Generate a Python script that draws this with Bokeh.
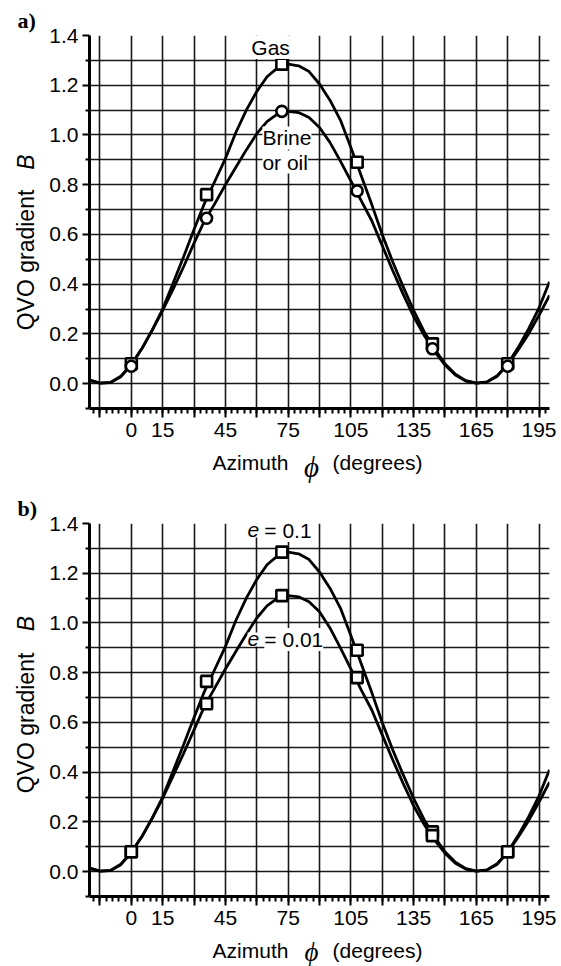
import math
from bokeh.plotting import figure
from bokeh.layouts import column, row
from bokeh.models import Range1d, FixedTicker, Label, Title
from bokeh.embed import file_html
from bokeh.resources import INLINE

# ---------------- data ----------------
azimuth = [-20, -15, -10, -5, 0, 5, 10, 15, 20, 25, 30, 35, 40, 45, 50, 55, 60,
           65, 70, 75, 80, 85, 90, 95, 100, 105, 110, 115, 120, 125, 130, 135,
           140, 145, 150, 155, 160, 165, 170, 175, 180, 185, 190, 195, 200]

gas = [0.015, 0.002, 0.004, 0.028, 0.078, 0.14, 0.215, 0.30, 0.405, 0.51, 0.62,
       0.725, 0.815, 0.905, 1.01, 1.10, 1.175, 1.235, 1.27, 1.285, 1.278, 1.255,
       1.205, 1.14, 1.06, 0.95, 0.835, 0.72, 0.60, 0.49, 0.39, 0.295, 0.21, 0.14,
       0.08, 0.038, 0.012, 0.002, 0.006, 0.03, 0.08, 0.145, 0.22, 0.305, 0.41]

brine = [0.012, 0.002, 0.005, 0.03, 0.075, 0.14, 0.215, 0.295, 0.38, 0.47, 0.565,
         0.655, 0.725, 0.80, 0.87, 0.94, 1.005, 1.055, 1.085, 1.095, 1.09, 1.07,
         1.03, 0.97, 0.895, 0.815, 0.735, 0.655, 0.555, 0.455, 0.36, 0.27, 0.195,
         0.13, 0.075, 0.035, 0.01, 0.002, 0.007, 0.032, 0.075, 0.135, 0.20, 0.275,
         0.355]

e_01 = [0.015, 0.002, 0.004, 0.028, 0.078, 0.14, 0.215, 0.30, 0.405, 0.51, 0.62,
        0.725, 0.815, 0.905, 1.01, 1.10, 1.175, 1.235, 1.27, 1.285, 1.278, 1.255,
        1.205, 1.14, 1.06, 0.95, 0.835, 0.72, 0.60, 0.49, 0.39, 0.295, 0.21, 0.14,
        0.08, 0.038, 0.012, 0.002, 0.006, 0.03, 0.08, 0.145, 0.22, 0.305, 0.41]

e_001 = [0.012, 0.002, 0.005, 0.03, 0.077, 0.14, 0.215, 0.295, 0.385, 0.475, 0.57,
         0.665, 0.74, 0.815, 0.885, 0.955, 1.02, 1.07, 1.10, 1.11, 1.105, 1.085,
         1.045, 0.98, 0.90, 0.815, 0.73, 0.65, 0.55, 0.45, 0.355, 0.265, 0.19,
         0.128, 0.074, 0.034, 0.01, 0.002, 0.007, 0.032, 0.077, 0.138, 0.205, 0.28,
         0.36]

marker_azimuth = [0, 36, 72, 108, 144, 180]
gas_pts = [0.08, 0.76, 1.285, 0.89, 0.16, 0.08]
brine_pts = [0.07, 0.665, 1.095, 0.775, 0.14, 0.07]
e01_pts = [0.08, 0.765, 1.285, 0.89, 0.16, 0.08]
e001_pts = [0.08, 0.675, 1.11, 0.78, 0.145, 0.08]

x_major = [-15, 0, 15, 30, 45, 60, 75, 90, 105, 120, 135, 150, 165, 180, 195]
x_labeled = [0, 15, 45, 75, 105, 135, 165, 195]
x_minor = list(range(-18, 200, 3))
y_major = [0.0, 0.2, 0.4, 0.6, 0.8, 1.0, 1.2, 1.4]
y_minor = [-0.1, 0.1, 0.3, 0.5, 0.7, 0.9, 1.1, 1.3]
y_grid = [0.0, 0.1, 0.2, 0.3, 0.4, 0.5, 0.6, 0.7, 0.8, 0.9, 1.0, 1.1, 1.2, 1.3]
y_labels = ["0.0", "0.2", "0.4", "0.6", "0.8", "1.0", "1.2", "1.4"]

SANS = "Liberation Sans"
SERIF = "Liberation Serif"

STRIP_W = 45
MAIN_W = 561 - STRIP_W
FRAME_TOP = 35
FRAME_BOTTOM = 408


def blank(width, height, top=0, bottom=0):
    """Plain drawing area without axes or title."""
    f = figure(width=width, height=height, output_backend="svg", toolbar_location=None,
               title=None, x_axis_location=None, y_axis_location=None,
               min_border=0, min_border_left=0, min_border_right=0,
               min_border_top=top, min_border_bottom=bottom)
    f.outline_line_color = None
    f.xgrid.visible = False
    f.ygrid.visible = False
    f.background_fill_color = "white"
    f.border_fill_color = "white"
    return f


def left_strip(height, letter, b_y, qvo_y):
    # frame of this strip lines up with the frame of the main panel (rows align frames);
    # data units: x = pixels from left, y = -(pixels from top of the panel)
    f = blank(STRIP_W, height, top=FRAME_TOP, bottom=height - FRAME_BOTTOM)
    f.x_range = Range1d(0, STRIP_W)
    f.y_range = Range1d(-FRAME_BOTTOM, -FRAME_TOP)
    f.add_layout(Title(text=letter, align="left", offset=17, standoff=6,
                       text_font=SERIF, text_font_style="bold", text_font_size="22px",
                       text_color="black"), "above")
    for y, text, style in ((b_y, "B", "italic"), (qvo_y, "QVO gradient", "normal")):
        f.add_layout(Label(x=25, y=-y, text=text, angle=math.pi / 2, text_align="center",
                           text_baseline="middle", text_font=SANS, text_font_size="23px",
                           text_font_style=style, text_color="black"))
    return f


def bottom_strip(height, y_from_top, phi_y, phi_size):
    f = blank(561, height)
    f.x_range = Range1d(0, 561)
    f.y_range = Range1d(-height, 0)
    for x, y, text, font, size, style in (
            (250, y_from_top, "Azimuth", SANS, "21px", "normal"),
            (311, phi_y, "\u03d5", SERIF, phi_size, "italic"),
            (377, y_from_top, "(degrees)", SANS, "21px", "normal")):
        f.add_layout(Label(x=x, y=-y, text=text, text_align="center",
                           text_baseline="middle", text_font=font, text_font_size=size,
                           text_font_style=style, text_color="black"))
    return f


def main_panel(height):
    p = figure(width=MAIN_W, height=height, output_backend="svg", toolbar_location=None,
               x_range=Range1d(-20, 200), y_range=Range1d(-0.1, 1.4),
               min_border_left=89 - STRIP_W, min_border_right=12, min_border_top=FRAME_TOP,
               min_border_bottom=height - FRAME_BOTTOM)
    p.outline_line_color = None
    p.background_fill_color = "white"
    p.border_fill_color = "white"

    p.xgrid.ticker = FixedTicker(ticks=x_major)
    p.ygrid.ticker = FixedTicker(ticks=y_grid)
    for g in (p.xgrid, p.ygrid):
        g.grid_line_color = "black"
        g.grid_line_width = 1.6
        g.grid_line_alpha = 0.9

    xa = p.xaxis[0]
    xa.ticker = FixedTicker(ticks=x_major, minor_ticks=x_minor)
    xa.major_label_overrides = {t: (str(t) if t in x_labeled else "") for t in x_major}
    ya = p.yaxis[0]
    ya.ticker = FixedTicker(ticks=y_major, minor_ticks=y_minor)
    ya.major_label_overrides = {t: s for t, s in zip(y_major, y_labels)}

    for ax in (xa, ya):
        ax.axis_line_width = 3
        ax.axis_line_color = "black"
        ax.major_tick_line_width = 2
        ax.minor_tick_line_width = 2
        ax.major_tick_line_color = "black"
        ax.minor_tick_line_color = "black"
        ax.major_tick_in = 0
        ax.minor_tick_in = 0
        ax.major_label_text_font = SANS
        ax.major_label_text_font_size = "21px"
        ax.major_label_text_color = "black"
    xa.major_tick_out = 9
    xa.minor_tick_out = 5
    xa.major_label_standoff = 5
    ya.major_tick_out = 7
    ya.minor_tick_out = 4
    ya.major_label_standoff = 4
    return p


def note(p, x, y, text, italic=False, align="left"):
    p.add_layout(Label(x=x, y=y, text=text, text_align=align, text_baseline="middle",
                       text_font=SANS, text_font_size="21px",
                       text_font_style="italic" if italic else "normal",
                       text_color="black", background_fill_color="white",
                       background_fill_alpha=1.0))


def curves(p, ys_a, ys_b, pts_a, pts_b, marker_b):
    p.line(azimuth, ys_a, line_color="black", line_width=2.8)
    p.line(azimuth, ys_b, line_color="black", line_width=2.8)
    p.scatter(marker_azimuth, pts_a, marker="square", size=11, line_width=2.6,
              line_color="black", fill_color="white")
    p.scatter(marker_azimuth, pts_b, marker=marker_b, size=11, line_width=2.6,
              line_color="black", fill_color="white")


# ---------------- panel a ----------------
HA = 448
pa = main_panel(HA)
curves(pa, gas, brine, gas_pts, brine_pts, "circle")
note(pa, 66.6, 1.352, "Gas", align="center")
note(pa, 62.7, 0.988, "Brine")
note(pa, 62.7, 0.891, "or oil")
la = left_strip(HA, "a)", 161.5, 259.5)
ba = bottom_strip(488 - HA, 14, 18, "29px")

# ---------------- panel b ----------------
HB = 446
pb = main_panel(HB)
curves(pb, e_01, e_001, e01_pts, e001_pts, "square")
note(pb, 55.6, 1.372, "e", italic=True)
note(pb, 63.6, 1.372, "= 0.1")
note(pb, 55.6, 0.934, "e", italic=True)
note(pb, 63.6, 0.934, "= 0.01")
lb = left_strip(HB, "b)", 135, 234.5)
bb = bottom_strip(478 - HB, 16, 17, "27px")

layout = column(row(la, pa, spacing=0), ba, row(lb, pb, spacing=0), bb, spacing=0)
open("out.html", "w").write(file_html(layout, INLINE))
